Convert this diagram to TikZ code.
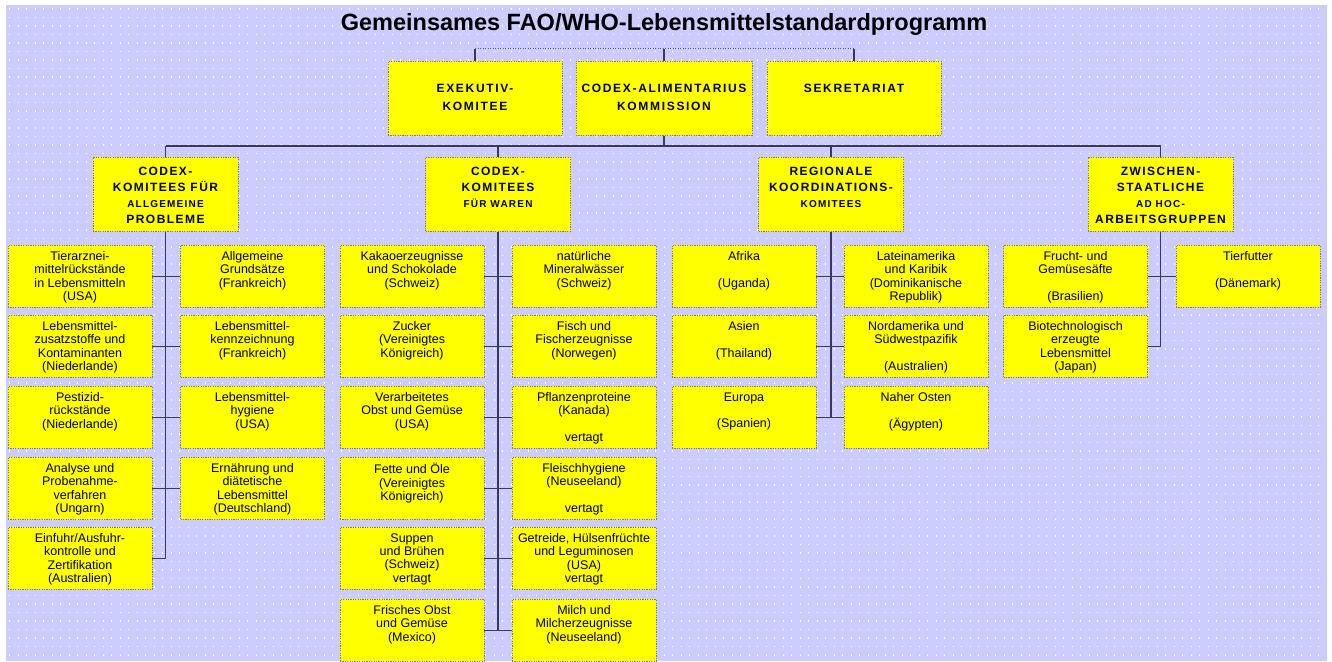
\documentclass[tikz,border=0pt]{standalone}
\usepackage{fontspec}
\setmainfont{Liberation Sans}
\usepackage{tikz}
\usetikzlibrary{calc}
\definecolor{grund}{HTML}{CCCCFF}
\definecolor{gelb}{HTML}{FFFF00}
\definecolor{rand}{HTML}{808070}
\definecolor{linie}{HTML}{3A3A58}
\newcommand{\ktext}[3]{\parbox[c][#1][t]{#2}{\centering #3}}
\newcommand{\komtext}[1]{\ktext{50pt}{140pt}{#1}}
\newcommand{\klein}{\fontsize{10}{16}\selectfont}
\tikzset{
  kasten/.style={draw=rand, line width=0.8pt, dash pattern=on 1.2pt off 1.2pt, fill=gelb, anchor=north, inner xsep=2pt},
  stufeA/.style={kasten, inner ysep=23pt, font=\fontsize{12}{18}\selectfont\bfseries\addfontfeature{LetterSpace=14}},
  stufeB/.style={kasten, inner ysep=9.5pt, font=\fontsize{12}{16}\selectfont\bfseries\addfontfeature{LetterSpace=12}},
  gremium/.style={kasten, inner ysep=6pt, font=\fontsize{12.5}{13.4}\selectfont},
  verb/.style={draw=linie, line width=1.3pt},
  punktlinie/.style={draw=linie!80, line width=1pt, dash pattern=on 1pt off 1.5pt},
  titel/.style={font=\fontsize{23.5}{26}\selectfont\bfseries, anchor=base}
}

\begin{document}
\begin{tikzpicture}[x=1pt, y=-1pt]
  \useasboundingbox (0,0) rectangle (1332,661);
  \fill[white] (0,0) rectangle (1332,661);
  \fill[grund] (6,5) rectangle (1327,661);
  \foreach \r in {0,...,76}
    \draw[white, line width=1.2pt, dash pattern=on 1.2pt off 7.3pt] (9,{9+8.5*\r}) -- (1326,{9+8.5*\r});

  \node[titel] (titel) at (664,31) {Gemeinsames FAO/WHO-Lebensmittelstandardprogramm};

  % Kommission
  \node[stufeA] (exe) at (475,61) {\ktext{28pt}{170pt}{EXEKUTIV-\\KOMITEE}};
  \node[stufeA] (kom) at (664,61) {\ktext{28pt}{172pt}{CODEX-ALIMENTARIUS\\KOMMISSION}};
  \node[stufeA] (sek) at (854,61) {\ktext{28pt}{170pt}{SEKRETARIAT}};

  % Nebenorgane
  \node[stufeB] (allg) at (165.5,157) {\ktext{55pt}{141pt}{CODEX-\\KOMITEES FÜR\\{\klein ALLGEMEINE}\\PROBLEME}};
  \node[stufeB] (waren) at (498,157) {\ktext{55pt}{141pt}{CODEX-\\KOMITEES\\{\klein FÜR WAREN}}};
  \node[stufeB] (reg) at (831,157) {\ktext{55pt}{141pt}{REGIONALE\\KOORDINATIONS-\\{\klein KOMITEES}}};
  \node[stufeB] (zwi) at (1160.5,157) {\ktext{55pt}{141pt}{ZWISCHEN-\\STAATLICHE\\{\klein AD HOC-}\\ARBEITSGRUPPEN}};

  % allgemeine Probleme
  \node[gremium] (a1) at (80,245) {\komtext{Tierarznei-\\mittelrückstände\\in Lebensmitteln\\(USA)}};
  \node[gremium] (a2) at (80,315) {\komtext{Lebensmittel-\\zusatzstoffe und\\Kontaminanten\\(Niederlande)}};
  \node[gremium] (a3) at (80,386) {\komtext{Pestizid-\\rückstände\\(Niederlande)}};
  \node[gremium] (a4) at (80,457) {\komtext{Analyse und\\Probenahme-\\verfahren\\(Ungarn)}};
  \node[gremium] (a5) at (80,527) {\komtext{Einfuhr/Ausfuhr-\\kontrolle und\\Zertifikation\\(Australien)}};
  \node[gremium] (b1) at (252.5,245) {\komtext{Allgemeine\\Grundsätze\\(Frankreich)}};
  \node[gremium] (b2) at (252.5,315) {\komtext{Lebensmittel-\\kennzeichnung\\(Frankreich)}};
  \node[gremium] (b3) at (252.5,386) {\komtext{Lebensmittel-\\hygiene\\(USA)}};
  \node[gremium] (b4) at (252.5,457) {\komtext{Ernährung und\\diätetische\\Lebensmittel\\(Deutschland)}};

  % Waren
  \node[gremium] (c1) at (412,245) {\komtext{Kakaoerzeugnisse\\und Schokolade\\(Schweiz)}};
  \node[gremium] (c2) at (412,315) {\komtext{Zucker\\(Vereinigtes\\Königreich)}};
  \node[gremium] (c3) at (412,386) {\komtext{Verarbeitetes\\Obst und Gemüse\\(USA)}};
  \node[gremium] (c4) at (412,457) {\komtext{Fette und Öle\\(Vereinigtes\\Königreich)}};
  \node[gremium] (c5) at (412,527) {\komtext{Suppen\\und Brühen\\(Schweiz)\\vertagt}};
  \node[gremium] (c6) at (412,599) {\komtext{Frisches Obst\\und Gemüse\\(Mexico)}};
  \node[gremium] (d1) at (584,245) {\komtext{natürliche\\Mineralwässer\\(Schweiz)}};
  \node[gremium] (d2) at (584,315) {\komtext{Fisch und\\Fischerzeugnisse\\(Norwegen)}};
  \node[gremium] (d3) at (584,386) {\komtext{Pflanzenproteine\\(Kanada)\\~\\vertagt}};
  \node[gremium] (d4) at (584,457) {\komtext{Fleischhygiene\\(Neuseeland)\\~\\vertagt}};
  \node[gremium] (d5) at (584,527) {\komtext{Getreide, Hülsenfrüchte\\und Leguminosen\\(USA)\\vertagt}};
  \node[gremium] (d6) at (584,599) {\komtext{Milch und\\Milcherzeugnisse\\(Neuseeland)}};

  % Regionen
  \node[gremium] (e1) at (744,245) {\komtext{Afrika\\~\\(Uganda)}};
  \node[gremium] (e2) at (744,315) {\komtext{Asien\\~\\(Thailand)}};
  \node[gremium] (e3) at (744,386) {\komtext{Europa\\~\\(Spanien)}};
  \node[gremium] (f1) at (916,245) {\komtext{Lateinamerika\\und Karibik\\(Dominikanische\\Republik)}};
  \node[gremium] (f2) at (916,315) {\komtext{Nordamerika und\\Südwestpazifik\\~\\(Australien)}};
  \node[gremium] (f3) at (916,386) {\komtext{Naher Osten\\~\\(Ägypten)}};

  % Arbeitsgruppen
  \node[gremium] (h1) at (1075.5,245) {\komtext{Frucht- und\\Gemüsesäfte\\~\\(Brasilien)}};
  \node[gremium] (h2) at (1075.5,315) {\komtext{Biotechnologisch\\erzeugte\\Lebensmittel\\(Japan)}};
  \node[gremium] (i1) at (1248,245) {\komtext{Tierfutter\\~\\(Dänemark)}};

  % Verbindungen
  \coordinate (oben) at (664,49);
  \coordinate (bus) at (664,146);
  \draw[punktlinie] (exe.north |- oben) -- (sek.north |- oben);
  \foreach \n in {exe,kom,sek}
    \draw[verb] (\n.north) -- (\n.north |- oben);
  \draw[verb] (kom.south) -- (bus);
  \draw[verb] (allg.north |- bus) -- (zwi.north |- bus);
  \foreach \n in {allg,waren,reg,zwi}
    \draw[verb] (\n.north) -- (\n.north |- bus);

  \draw[verb] (allg.south) -- (allg.south |- a5.east) -- (a5.east);
  \foreach \i in {1,...,4}
    \draw[verb] (a\i.east) -- (b\i.west);
  \draw[verb] (waren.south) -- (waren.south |- c6.east);
  \foreach \i in {1,...,6}
    \draw[verb] (c\i.east) -- (d\i.west);
  \draw[verb] (reg.south) -- (reg.south |- e3.east);
  \foreach \i in {1,2,3}
    \draw[verb] (e\i.east) -- (f\i.west);
  \draw[verb] (zwi.south) -- (zwi.south |- h2.east) -- (h2.east);
  \draw[verb] (h1.east) -- (i1.west);
\end{tikzpicture}
\end{document}
